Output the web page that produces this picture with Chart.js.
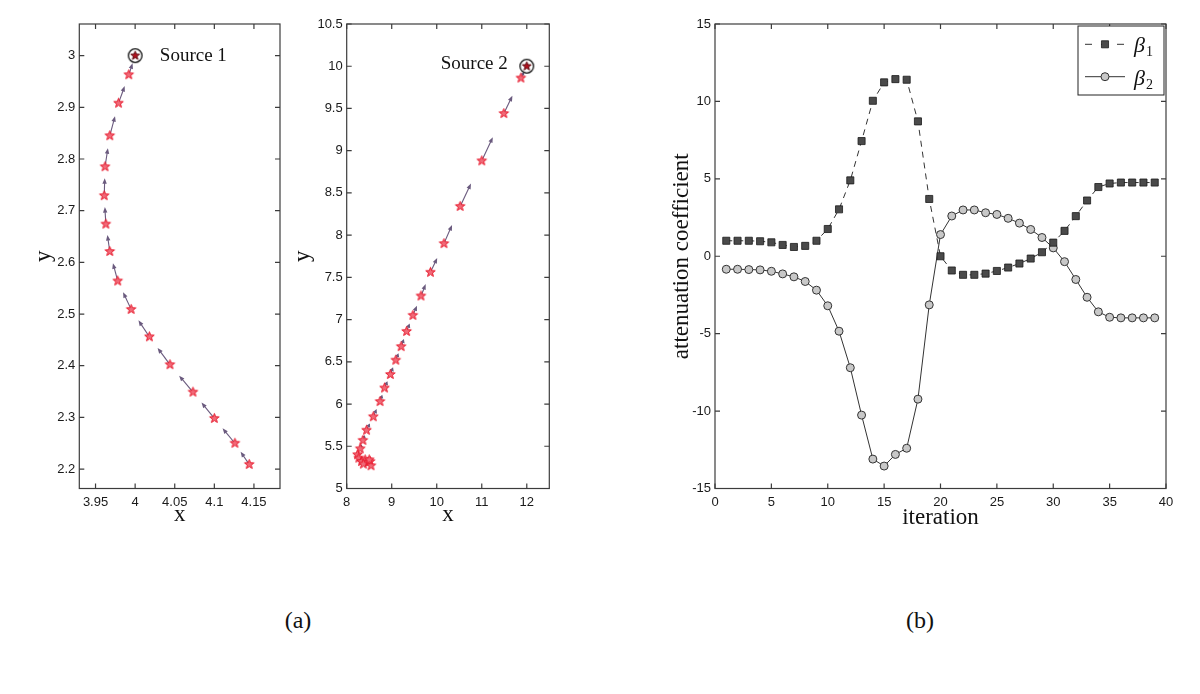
<!DOCTYPE html>
<html>
<head>
<meta charset="utf-8">
<script src="https://cdn.jsdelivr.net/npm/chart.js@4.4.1/dist/chart.umd.min.js"></script>
<style>
  body { margin: 0; background: #fff; }
  #wrap { position: relative; width: 1200px; height: 694px; overflow: hidden; background: #fff; }
  #wrap canvas { position: absolute; top: 0; }
  .panel-label { position: absolute; top: 607px; width: 100px; line-height: 30px; text-align: center;
                 font: 24px "Liberation Serif", serif; color: #111; }
</style>
</head>
<body>
<div id="wrap">
  <canvas id="src1" width="285" height="560" style="left:0"></canvas>
  <canvas id="src2" width="275" height="560" style="left:285px"></canvas>
  <canvas id="atten" width="560" height="560" style="left:640px"></canvas>
  <div class="panel-label" style="left:248px">(a)</div>
  <div class="panel-label" style="left:870px">(b)</div>
</div>
<script>
// --- panel (a): true source positions and estimates per iteration (nearest the source first)
const SOURCE_1 = { x: 4.0, y: 3.0 };
const SOURCE_2 = { x: 12.0, y: 10.0 };
const SOURCE_NAMES = ['Source 1', 'Source 2'];

const EST1_X = [3.992, 3.979, 3.968, 3.962, 3.961, 3.963, 3.968, 3.978, 3.995, 4.018, 4.044, 4.073, 4.100, 4.126, 4.144];
const EST1_Y = [2.963, 2.908, 2.845, 2.785, 2.729, 2.674, 2.621, 2.564, 2.509, 2.456, 2.402, 2.349, 2.298, 2.250, 2.209];

const EST2_X = [11.87, 11.49, 11.00, 10.52, 10.16, 9.86, 9.65, 9.47, 9.33, 9.21, 9.09, 8.97, 8.84, 8.74,
                8.59, 8.44, 8.36, 8.30, 8.24, 8.27, 8.33, 8.41, 8.47, 8.52, 8.54, 8.37, 8.50];
const EST2_Y = [9.86, 9.44, 8.88, 8.34, 7.90, 7.56, 7.28, 7.05, 6.86, 6.68, 6.52, 6.35, 6.19, 6.03,
                5.85, 5.69, 5.57, 5.47, 5.40, 5.36, 5.32, 5.34, 5.31, 5.32, 5.27, 5.29, 5.34];

const X1_TICKS = [3.95, 4, 4.05, 4.1, 4.15];
const Y1_TICKS = [2.2, 2.3, 2.4, 2.5, 2.6, 2.7, 2.8, 2.9, 3];
const X2_TICKS = [8, 9, 10, 11, 12];
const Y2_TICKS = [5, 5.5, 6, 6.5, 7, 7.5, 8, 8.5, 9, 9.5, 10, 10.5];

// --- panel (b): attenuation coefficients per iteration
const ITERATION = [1, 2, 3, 4, 5, 6, 7, 8, 9, 10, 11, 12, 13, 14, 15, 16, 17, 18, 19, 20,
                   21, 22, 23, 24, 25, 26, 27, 28, 29, 30, 31, 32, 33, 34, 35, 36, 37, 38, 39];
const BETA_1 = [1.0, 1.0, 1.0, 0.97, 0.9, 0.73, 0.6, 0.67, 1.0, 1.76,
                3.03, 4.9, 7.44, 10.04, 11.23, 11.44, 11.4, 8.71, 3.7, 0.0,
                -0.92, -1.2, -1.2, -1.12, -0.95, -0.73, -0.47, -0.15, 0.26, 0.88,
                1.64, 2.59, 3.6, 4.47, 4.7, 4.76, 4.76, 4.76, 4.76];
const BETA_2 = [-0.84, -0.84, -0.86, -0.88, -0.97, -1.14, -1.33, -1.63, -2.19, -3.2,
                -4.84, -7.2, -10.26, -13.1, -13.55, -12.8, -12.4, -9.23, -3.14, 1.4,
                2.6, 2.99, 2.99, 2.81, 2.7, 2.45, 2.14, 1.73, 1.21, 0.54,
                -0.35, -1.5, -2.65, -3.59, -3.94, -3.98, -3.98, -3.98, -3.98];
const ITER_TICKS = [0, 5, 10, 15, 20, 25, 30, 35, 40];
const ATT_TICKS = [-15, -10, -5, 0, 5, 10, 15];

const TICK_FONT = { family: '"Liberation Sans", Arial, sans-serif', size: 13 };
const TITLE_FONT = { family: '"Liberation Serif", serif', size: 23 };
const AXIS_COLOR = '#3c3c3c';
const ARROW_COLOR = '#6a5a7e';

function starImage(r, fill, stroke, ring) {
  const c = document.createElement('canvas');
  const s = ring ? 17 : Math.ceil(r * 2 + 3);
  c.width = c.height = s;
  const g = c.getContext('2d');
  g.translate(s / 2, s / 2);
  if (ring) {
    g.beginPath();
    g.arc(0, 0, ring, 0, Math.PI * 2);
    g.lineWidth = 1.3;
    g.strokeStyle = '#111';
    g.stroke();
  }
  g.beginPath();
  for (let k = 0; k < 10; k++) {
    const rad = k % 2 ? r * 0.42 : r;
    const ang = -Math.PI / 2 + k * Math.PI / 5;
    g.lineTo(rad * Math.cos(ang), rad * Math.sin(ang));
  }
  g.closePath();
  g.fillStyle = fill;
  g.fill();
  g.lineWidth = 1;
  g.strokeStyle = stroke;
  g.stroke();
  return c;
}

const STAR = starImage(5, '#f06a78', '#e8192c');
const SOURCE_MARK = starImage(4.6, '#b3121f', '#5a080e', 6.8);

function axis(min, max, ticks, size, title, titlePad, pad) {
  return {
    type: 'linear',
    min: min,
    max: max,
    afterBuildTicks: s => { s.ticks = ticks.map(v => ({ value: v })); },
    afterFit: s => { if (s.isHorizontal()) s.height = size; else s.width = size; },
    grid: { display: false, drawTicks: false },
    border: { display: false },
    ticks: { autoSkip: false, maxRotation: 0, padding: pad, font: TICK_FONT, color: '#1a1a1a',
             callback: v => String(v) },
    title: { display: true, text: title, font: TITLE_FONT, color: '#111', padding: titlePad }
  };
}

// axes box with inward ticks on all four sides
const framePlugin = {
  id: 'frame',
  afterDraw(chart) {
    const { ctx, chartArea: a, scales: { x, y } } = chart;
    const len = 5;
    ctx.save();
    ctx.strokeStyle = AXIS_COLOR;
    ctx.lineWidth = 1.2;
    ctx.strokeRect(a.left, a.top, a.right - a.left, a.bottom - a.top);
    ctx.beginPath();
    x.ticks.forEach(t => {
      const px = x.getPixelForValue(t.value);
      ctx.moveTo(px, a.bottom); ctx.lineTo(px, a.bottom - len);
      ctx.moveTo(px, a.top); ctx.lineTo(px, a.top + len);
    });
    y.ticks.forEach(t => {
      const py = y.getPixelForValue(t.value);
      ctx.moveTo(a.left, py); ctx.lineTo(a.left + len, py);
      ctx.moveTo(a.right, py); ctx.lineTo(a.right - len, py);
    });
    ctx.stroke();
    ctx.restore();
  }
};

// arrow from every estimate towards the previous one (the source for the first)
const quiverPlugin = {
  id: 'quiver',
  beforeDatasetsDraw(chart, args, opts) {
    const { ctx, scales: { x, y } } = chart;
    const pts = [chart.data.datasets[0].data[0]].concat(chart.data.datasets[1].data);
    ctx.save();
    ctx.strokeStyle = ARROW_COLOR;
    ctx.fillStyle = ARROW_COLOR;
    ctx.lineWidth = 1.1;
    for (let i = 1; i < pts.length; i++) {
      const x0 = x.getPixelForValue(pts[i].x), y0 = y.getPixelForValue(pts[i].y);
      const x1 = x.getPixelForValue(pts[i - 1].x), y1 = y.getPixelForValue(pts[i - 1].y);
      const tx = x0 + (x1 - x0) * opts.fraction, ty = y0 + (y1 - y0) * opts.fraction;
      const l = Math.hypot(tx - x0, ty - y0);
      if (l < 2) continue;
      const c = (tx - x0) / l, s = (ty - y0) / l, hl = Math.min(5.5, l * 0.5), hw = 2.2;
      ctx.beginPath();
      ctx.moveTo(x0, y0);
      ctx.lineTo(tx - c * hl * 0.6, ty - s * hl * 0.6);
      ctx.stroke();
      ctx.beginPath();
      ctx.moveTo(tx, ty);
      ctx.lineTo(tx - c * hl - s * hw, ty - s * hl + c * hw);
      ctx.lineTo(tx - c * hl + s * hw, ty - s * hl - c * hw);
      ctx.closePath();
      ctx.fill();
    }
    ctx.restore();
  }
};

const sourceLabelPlugin = {
  id: 'sourceLabel',
  afterDatasetsDraw(chart, args, opts) {
    const { ctx, scales: { x, y } } = chart;
    const p = chart.data.datasets[0].data[0];
    ctx.save();
    ctx.font = '19px "Liberation Serif", serif';
    ctx.fillStyle = '#111';
    ctx.textAlign = opts.align;
    ctx.textBaseline = 'middle';
    ctx.fillText(opts.text, x.getPixelForValue(p.x) + opts.dx, y.getPixelForValue(p.y) + opts.dy);
    ctx.restore();
  }
};

function sourceChart(id, src, xs, ys, scales, pad, label, fraction) {
  return new Chart(document.getElementById(id), {
    type: 'scatter',
    data: {
      datasets: [
        { label: 'source', data: [src], pointStyle: SOURCE_MARK },
        { label: 'estimate', data: xs.map((v, i) => ({ x: v, y: ys[i] })), pointStyle: STAR }
      ]
    },
    options: {
      responsive: false,
      animation: false,
      devicePixelRatio: 1,
      layout: { padding: pad },
      scales: scales,
      plugins: {
        legend: { display: false },
        tooltip: { enabled: false },
        quiver: { fraction: fraction },
        sourceLabel: label
      }
    },
    plugins: [quiverPlugin, sourceLabelPlugin, framePlugin]
  });
}

sourceChart('src1', SOURCE_1, EST1_X, EST1_Y, {
  x: axis(3.9295, 4.1829, X1_TICKS, 71.5, 'x', { top: 0, bottom: 31.4 }, 6),
  y: axis(2.1624, 3.0612, Y1_TICKS, 79.3, 'y', { top: 30.2, bottom: 0 }, 4)
}, { left: 0, top: 24, right: 2.7, bottom: 0 },
   { text: SOURCE_NAMES[0], align: 'left', dx: 24.7, dy: 0 }, 0.6);

sourceChart('src2', SOURCE_2, EST2_X, EST2_Y, {
  x: axis(8, 12.5, X2_TICKS, 71.5, 'x', { top: 0, bottom: 31.4 }, 6),
  y: axis(5, 10.5, Y2_TICKS, 61.7, 'y', { top: 4.2, bottom: 0 }, 4)
}, { left: 0, top: 24, right: 10.7, bottom: 0 },
   { text: SOURCE_NAMES[1], align: 'right', dx: -19, dy: -2 }, 0.5);

// legend box: line + marker sample and beta with subscript
const betaLegendPlugin = {
  id: 'betaLegend',
  afterDraw(chart) {
    const { ctx, chartArea: a } = chart;
    const w = 86, h = 69;
    const bx = a.right - w - 2, by = a.top + 2;
    ctx.save();
    ctx.fillStyle = '#fff';
    ctx.fillRect(bx, by, w, h);
    ctx.strokeStyle = '#222';
    ctx.lineWidth = 1;
    ctx.strokeRect(bx, by, w, h);
    chart.data.datasets.forEach((ds, i) => {
      const cy = by + 18.3 + i * 32.4;
      const x0 = bx + 7, x1 = bx + 47, cx = (x0 + x1) / 2;
      ctx.beginPath();
      ctx.setLineDash(ds.borderDash ? [7, 9] : []);
      ctx.strokeStyle = ds.borderColor;
      ctx.lineWidth = ds.borderWidth;
      ctx.moveTo(x0, cy);
      ctx.lineTo(x1, cy);
      ctx.stroke();
      ctx.setLineDash([]);
      ctx.beginPath();
      if (ds.pointStyle === 'rect') {
        const r = ds.pointRadius * Math.SQRT1_2;
        ctx.rect(cx - r, cy - r, 2 * r, 2 * r);
      } else {
        ctx.arc(cx, cy, ds.pointRadius, 0, Math.PI * 2);
      }
      ctx.fillStyle = ds.pointBackgroundColor;
      ctx.fill();
      ctx.lineWidth = ds.pointBorderWidth;
      ctx.strokeStyle = ds.pointBorderColor;
      ctx.stroke();
      ctx.fillStyle = '#111';
      ctx.textAlign = 'left';
      ctx.textBaseline = 'alphabetic';
      ctx.font = 'italic 22px "Liberation Serif", serif';
      const sym = ds.label.charAt(0);
      ctx.fillText(sym, bx + 56, cy + 8);
      const bw = ctx.measureText(sym).width;
      ctx.font = '14px "Liberation Serif", serif';
      ctx.fillText(ds.label.slice(1), bx + 56 + bw + 1, cy + 12);
    });
    ctx.restore();
  }
};

new Chart(document.getElementById('atten'), {
  type: 'scatter',
  data: {
    datasets: [
      {
        label: 'β1',
        data: ITERATION.map((v, i) => ({ x: v, y: BETA_1[i] })),
        showLine: true,
        borderColor: '#333',
        borderWidth: 1,
        borderDash: [6, 5],
        pointStyle: 'rect',
        pointRadius: 5,
        pointBackgroundColor: '#4a4a4a',
        pointBorderColor: '#1a1a1a',
        pointBorderWidth: 0.8
      },
      {
        label: 'β2',
        data: ITERATION.map((v, i) => ({ x: v, y: BETA_2[i] })),
        showLine: true,
        borderColor: '#333',
        borderWidth: 1,
        pointStyle: 'circle',
        pointRadius: 4,
        pointBackgroundColor: '#c8c8c8',
        pointBorderColor: '#333',
        pointBorderWidth: 1
      }
    ]
  },
  options: {
    responsive: false,
    animation: false,
    devicePixelRatio: 1,
    layout: { padding: { left: 0, top: 24, right: 34, bottom: 0 } },
    scales: {
      x: axis(0, 40, ITER_TICKS, 71.5, 'iteration', { top: 0, bottom: 28.2 }, 6),
      y: axis(-15, 15, ATT_TICKS, 75, 'attenuation coefficient', { top: 28.2, bottom: 0 }, 4)
    },
    plugins: {
      legend: { display: false },
      tooltip: { enabled: false }
    }
  },
  plugins: [framePlugin, betaLegendPlugin]
});
</script>
</body>
</html>
